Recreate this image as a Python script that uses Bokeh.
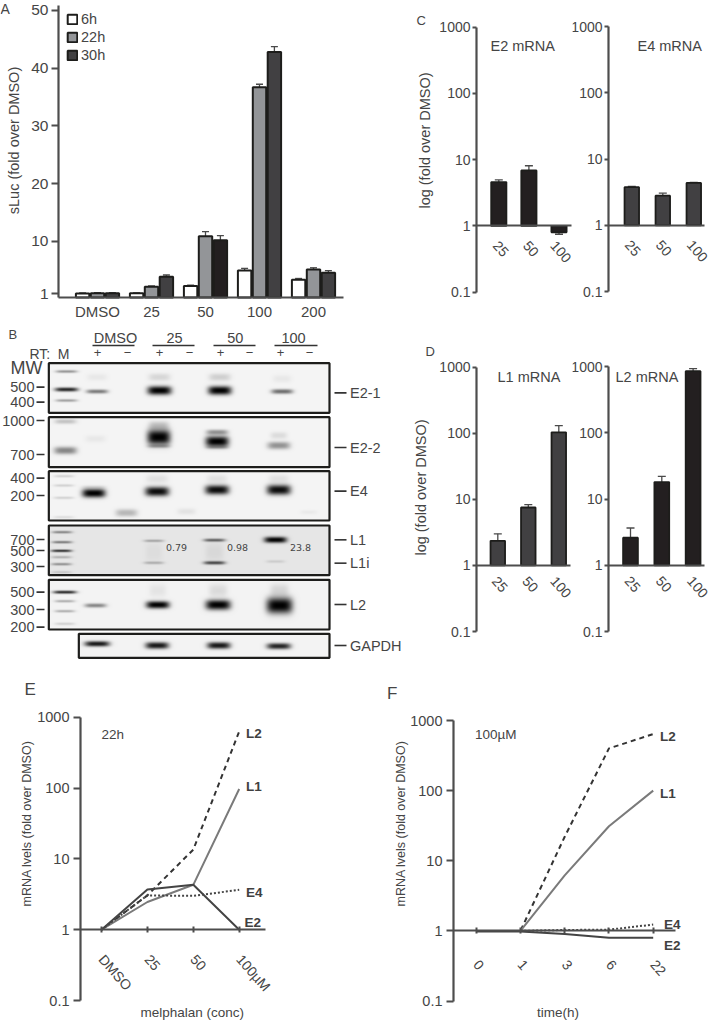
from bokeh.plotting import figure
from bokeh.layouts import column, row
from bokeh.embed import file_html
from bokeh.resources import INLINE
from bokeh.models import (Range1d, ColumnDataSource, Whisker, TeeHead, Label, FixedTicker,
                          Legend, LegendItem, LinearColorMapper)
from bokeh.palettes import gray
import numpy as np
import math

FONT = "Liberation Sans"
INK = "#454545"
AXIS = "#4d4d4d"

# ---------- panel A ----------
A_groups = ["DMSO", "25", "50", "100", "200"]
A_6h = [1.0, 1.05, 2.3, 5.0, 3.4]
A_22h = [1.05, 2.15, 10.9, 36.7, 5.15]
A_30h = [1.05, 3.9, 10.2, 42.8, 4.6]
A_6h_hi = [1.1, 1.1, 2.45, 5.35, 3.6]
A_6h_lo = [0.95, 1.0, 2.15, 4.6, 3.2]
A_22h_hi = [1.15, 2.3, 11.7, 37.2, 5.45]
A_22h_lo = [0.95, 2.0, 10.0, 36.2, 4.9]
A_30h_hi = [1.15, 4.2, 11.0, 43.7, 4.95]
A_30h_lo = [0.95, 3.6, 9.5, 42.0, 4.3]
A_yticks = [1, 10, 20, 30, 40, 50]

# ---------- panels C, D ----------
conc3 = ["25", "50", "100"]
C_E2 = [4.6, 6.9, 0.8]
C_E2_hi = [4.95, 8.1, 0.85]
C_E2_lo = [4.2, 5.9, 0.75]
C_E4 = [3.75, 2.8, 4.35]
C_E4_hi = [3.85, 3.05, 4.45]
C_E4_lo = [3.65, 2.55, 4.25]
D_L1 = [2.35, 7.5, 103]
D_L1_hi = [3.0, 8.3, 130]
D_L1_lo = [1.9, 7.0, 90]
D_L2 = [2.6, 18, 850]
D_L2_hi = [3.65, 22, 930]
D_L2_lo = [1.6, 14.8, 760]
log_ticks = [0.1, 1, 10, 100, 1000]
log_names = {0.1: "0.1", 1: "1", 10: "10", 100: "100", 1000: "1000"}

# ---------- panel E ----------
E_cats = ["DMSO", "25", "50", "100\u00b5M"]
E_L2 = [1, 3.05, 13.5, 630]
E_L1 = [1, 2.46, 4.3, 97]
E_E4 = [1, 3.05, 3.0, 3.65]
E_E2 = [1, 3.7, 4.3, 1.0]

# ---------- panel F ----------
F_cats = ["0", "1", "3", "6", "22"]
F_L2 = [1, 1, 22, 400, 640]
F_L1 = [1, 1, 6.2, 31, 100]
F_E4 = [1, 1, 1.03, 1.04, 1.23]
F_E2 = [0.98, 0.98, 0.9, 0.8, 0.8]

# ---------- panel B: gels, (lane, row, width, height, darkness) in 1/3 px ----------
gel_boxes = {
    "E2-1": (145, 143, 987, 292, 0.955),
    "E2-2": (145, 305, 987, 455, 0.955),
    "E4": (145, 467, 987, 615, 0.955),
    "L1": (145, 630, 987, 779, 0.90),
    "L2": (145, 793, 987, 942, 0.95),
    "GAPDH": (235, 955, 987, 1027, 0.95),
}
bands_E21 = [(198,168,65,8,.4),(198,222,70,12,.85),(198,255,65,8,.35),(290,228,65,12,.5),(290,185,60,20,.05),
             (477,225,72,26,1),(477,185,65,22,.12),(658,225,70,26,1),(658,185,65,22,.15),(845,228,65,14,.55),(845,190,55,22,.05)]
bands_E22 = [(195,318,65,14,.2),(195,405,68,22,.45),(285,370,60,20,.05),(475,365,70,46,1),(475,330,60,25,.2),(475,392,65,10,.3),
             (650,378,70,32,1),(650,350,65,15,.4),(650,395,65,10,.3),(835,390,68,22,.4),(835,360,50,20,.1)]
bands_E4 = [(190,482,60,5,.15),(190,510,60,6,.15),(190,547,60,6,.15),(190,605,60,4,.1),(280,533,70,26,1),(280,515,70,10,.1),
            (378,592,65,22,.25),(470,528,72,28,.95),(470,490,65,25,.08),(558,588,55,18,.07),(650,523,72,28,.95),(650,490,60,25,.08),
            (835,523,72,30,.95),(835,490,60,25,.08),(925,590,50,12,.04)]
bands_L1 = [(185,650,60,4,.45),(185,680,60,5,.5),(183,706,62,6,.85),(183,725,60,4,.25),(183,746,60,5,.4),(183,770,60,3,.15),
            (460,676,60,7,.3),(460,742,60,8,.25),(460,710,50,60,.04),(642,674,65,9,.6),(642,742,65,10,.7),(642,710,55,60,.06),
            (825,673,68,18,1),(825,738,55,8,.12)]
bands_L2 = [(193,830,70,9,.85),(193,857,60,5,.3),(193,887,60,5,.3),(193,925,60,6,.15),(285,870,65,12,.45),
            (472,868,70,22,1),(472,825,50,40,.06),(653,868,75,30,1),(653,825,55,40,.1),(837,870,78,48,1.0),(837,825,55,40,.12)]
bands_GAPDH = [(290,985,75,16,.9),(470,990,70,20,.9),(655,990,70,20,.9),(835,992,72,18,.85)]
gel_bands = {"E2-1": bands_E21, "E2-2": bands_E22, "E4": bands_E4, "L1": bands_L1, "L2": bands_L2, "GAPDH": bands_GAPDH}

mw_labels = [("500", 215), ("400", 260), ("1000", 315), ("700", 417), ("400", 488), ("200", 540),
             ("700", 672), ("500", 705), ("300", 753), ("500", 830), ("300", 882), ("200", 935)]
gel_names = [("E2-1", 232), ("E2-2", 396), ("E4", 527), ("L1", 673), ("L1i", 743), ("L2", 867), ("GAPDH", 990)]
lane_heads = [("DMSO", 115, 92, 134), ("25", 174, 152, 194), ("50", 234.7, 213, 255), ("100", 293, 274, 317)]
rt_marks = [("+", 97), ("\u2212", 127), ("+", 159), ("\u2212", 189), ("+", 220), ("\u2212", 249), ("+", 280), ("\u2212", 309)]
l1_ratios = [("0.79", 176), ("0.98", 237), ("23.8", 300)]


def log_range(fy, fh, T, B):
    """Range whose 0.1..1000 span falls between page rows T and B, for a frame filling the figure."""
    dec = (B - T) / 4
    return Range1d(0.1 * 10 ** (-(fy + fh - B) / dec), 1000 * 10 ** ((T - fy) / dec))


def panel(fx, fy, fw, fh, c0, dx, yr, **kw):
    xr = Range1d((fx - c0) / dx, (fx + fw - c0) / dx)
    p = figure(width=fw, height=fh, x_range=xr, y_range=yr,
               min_border_left=0, min_border_right=0, min_border_top=0, min_border_bottom=0,
               frame_align=False,
               toolbar_location=None, output_backend="svg", outline_line_color=None, **kw)
    p.grid.visible = False
    p.tags = [fx, fy + fh]
    return p


def note(p, px, py, text, size=14.5, color=INK, bold=False, align="left", angle=0, font=FONT):
    org = p.tags
    p.add_layout(Label(x=px - org[0], y=org[1] - py, x_units="screen", y_units="screen", text=text,
                       text_font=font, text_font_size=f"{size}px", text_color=color,
                       text_font_style="bold" if bold else "normal", text_align=align,
                       text_baseline="middle", angle=angle))


def vlabel(p, px, py, text, size=14.5):
    note(p, px, py, text, size=size, align="center", angle=math.pi / 2)


def style_y(p, ticks, at, bounds, overrides=None, tick=5, size=14.5, standoff=4):
    ax = p.yaxis[0]
    ax.ticker = FixedTicker(ticks=ticks)
    ax.fixed_location = at
    ax.bounds = bounds
    ax.minor_tick_line_color = None
    ax.major_tick_in = 0
    ax.major_tick_out = tick
    ax.major_tick_line_color = AXIS
    ax.major_tick_line_width = 2
    ax.axis_line_color = AXIS
    ax.axis_line_width = 2.2
    ax.major_label_text_font = FONT
    ax.major_label_text_font_size = f"{size}px"
    ax.major_label_text_color = INK
    ax.major_label_standoff = standoff
    if overrides:
        ax.major_label_overrides = overrides


def style_x(p, names, at, bounds, tick_in=0, tick_out=0, size=14.5, angle=-0.85, standoff=10, shift=0.0):
    ax = p.xaxis[0]
    ticks = [round(i + shift, 4) for i in range(len(names))]
    ax.ticker = FixedTicker(ticks=ticks)
    ax.major_label_overrides = dict(zip(ticks, names))
    ax.fixed_location = at
    ax.bounds = bounds
    ax.minor_tick_line_color = None
    ax.major_tick_in = tick_in
    ax.major_tick_out = tick_out
    ax.major_tick_line_color = AXIS
    ax.major_tick_line_width = 2
    ax.axis_line_color = AXIS
    ax.axis_line_width = 2.2
    ax.major_label_text_font = FONT
    ax.major_label_text_font_size = f"{size}px"
    ax.major_label_text_color = INK
    ax.major_label_standoff = standoff
    if angle:
        ax.major_label_orientation = angle


def err(p, xs, hi, lo, head=7, color="#4a4a4a"):
    src = ColumnDataSource(dict(x=xs, hi=hi, lo=lo))
    p.add_layout(Whisker(base="x", upper="hi", lower="lo", source=src, line_color=color, line_width=1.3,
                         upper_head=TeeHead(size=head, line_color=color, line_width=1.3),
                         lower_head=TeeHead(size=head, line_color=color, line_width=1.3)))


# ========== A ==========
ax0, adx = 97.0, 54.0
aL, aR, aT, aB = 58, 343, 5, 297
A_H = 326
ay = lambda py: 1 + (293 - py) / 5.78
pA = panel(0, 0, 405, A_H, ax0, adx, Range1d(ay(A_H), ay(0)))
bw = 13.4 / adx
off = 14.9 / adx
idx = np.arange(5)
r6 = pA.vbar(x=idx - off, top=A_6h, bottom=ay(aB), width=bw, fill_color="white", line_color="#1d1d1b", line_width=2)
r22 = pA.vbar(x=idx, top=A_22h, bottom=ay(aB), width=bw, fill_color="#939598", line_color="#1d1d1b", line_width=2)
fills30 = ["#414042", "#414042", "#231f20", "#414042", "#414042"]
r30 = pA.vbar(x="x", top="top", bottom=ay(aB), width=bw,
              source=ColumnDataSource(dict(x=idx + off, top=A_30h, fc=fills30)),
              fill_color="fc", line_color="#1d1d1b", line_width=2)
err(pA, list(idx - off), A_6h_hi, A_6h_lo)
err(pA, list(idx.astype(float)), A_22h_hi, A_22h_lo)
err(pA, list(idx + off), A_30h_hi, A_30h_lo)
style_y(pA, A_yticks, (aL - ax0) / adx, (ay(aB), ay(aT)), tick=7, size=15.5, standoff=3)
style_x(pA, A_groups, ay(aB), ((aL - ax0) / adx, (aR - ax0) / adx), size=15, angle=None, standoff=5)
pA.add_layout(Legend(items=[LegendItem(label="6h", renderers=[r6]), LegendItem(label="22h", renderers=[r22]),
                            LegendItem(label="30h", renderers=[r30])],
                     location=(66, A_H - 63), background_fill_alpha=0, border_line_color=None, padding=0, margin=0,
                     spacing=2, glyph_width=12, glyph_height=12, label_standoff=3, label_height=12,
                     label_text_font=FONT, label_text_font_size="14.5px", label_text_color=INK))
vlabel(pA, 13, 140, "sLuc (fold over DMSO)", size=14.5)
note(pA, 0, 8, "A", size=14)

# ========== B ==========
pB = panel(0, A_H, 405, 665 - A_H, 0, 1, Range1d(0, 665 - A_H))
pB.xaxis.visible = False
pB.yaxis.visible = False
gel = np.ones((350, 400))
yy, xx = np.mgrid[0:350, 0:400]
pagey = 664.5 - yy
pagex = xx + 0.5
for name, (x0, y0, x1, y1, bg) in gel_boxes.items():
    x0, y0, x1, y1 = x0 / 3, 315 + y0 / 3, x1 / 3, 315 + y1 / 3
    mask = (pagex >= x0) & (pagex <= x1) & (pagey >= y0) & (pagey <= y1)
    val = np.full(gel.shape, bg)
    for cx, cy, w, h, d in gel_bands[name]:
        cx, cy, w, h = cx / 3, 315 + cy / 3, w / 6, max(h / 6, 1.2)
        val *= 1 - d * np.exp(-np.abs((pagex - cx) / w) ** 4) * np.exp(-np.abs((pagey - cy) / h) ** 2.4)
    gel[mask] = val[mask]
pB.image(image=[gel], x=0, y=0, dw=400, dh=350,
         color_mapper=LinearColorMapper(palette=gray(256), low=0, high=1))
for name, (x0, y0, x1, y1, bg) in gel_boxes.items():
    pB.quad(left=x0 / 3, right=x1 / 3, bottom=350 - y1 / 3, top=350 - y0 / 3, fill_alpha=0,
            line_color="#1d1d1b", line_width=2.2)
note(pB, 8, 334, "B", size=13)
for t, c, a, b in lane_heads:
    note(pB, c, 337, t, size=14.5, align="center")
    pB.line([a, b], [665 - 345, 665 - 345], line_color="#333333", line_width=1.6)
note(pB, 29, 353, "RT:", size=14)
note(pB, 63, 353, "M", size=14, align="center")
for t, c in rt_marks:
    note(pB, c, 352, t, size=13, align="center")
note(pB, 10, 367, "MW", size=18)
for t, y in mw_labels:
    py = 315 + y / 3
    note(pB, 34, py, t, size=14.5, align="right")
    pB.line([36, 44], [665 - py, 665 - py], line_color="#333333", line_width=1.6)
for t, y in gel_names:
    py = 315 + y / 3
    note(pB, 349.5, py, t, size=14.5)
    pB.line([334, 346], [665 - py, 665 - py], line_color="#333333", line_width=1.6)
for t, c in l1_ratios:
    note(pB, c, 547, t, size=9.5, align="center", font="DejaVu Sans")


# ========== C, D ==========
def barpanel(fx, fy, fw, fh, L, R, T, B, c0, dx, w, vals, hi, lo, color, title, tx, ty, standoff, nudge):
    p = panel(fx, fy, fw, fh, c0, dx, log_range(fy, fh, T, B), y_axis_type="log")
    p.vbar(x=[0, 1, 2], bottom=1, top=vals, width=(w - 1.5) / dx, fill_color=color, line_color="#1d1d1b", line_width=1.8)
    err(p, [0, 1, 2], hi, lo, head=8)
    style_y(p, log_ticks, (L - c0) / dx, (0.1, 1000), log_names, tick=4, size=14, standoff=2)
    style_x(p, conc3, 1, ((L - c0) / dx, (R - c0) / dx), size=14, standoff=standoff, shift=nudge / dx)
    note(p, tx, ty, title, size=14.5)
    return p


pC1 = barpanel(405, 0, 167, 335, 476, 570.7, 26.7, 291.7, 498.3, 30.1, 16.7, C_E2, C_E2_hi, C_E2_lo, "#231f20",
               "E2 mRNA", 490, 45, 17, -3)
vlabel(pC1, 424, 140, "log (fold over DMSO)")
note(pC1, 416, 20, "C", size=13)
pC2 = barpanel(572, 0, 139, 335, 608, 704, 26, 291, 631.3, 31, 16, C_E4, C_E4_hi, C_E4_lo, "#414042",
               "E4 mRNA", 637, 45, 17, -4)
pD1 = barpanel(405, 335, 167, 320, 476, 570, 366.5, 631, 497.3, 30.5, 16, D_L1, D_L1_hi, D_L1_lo, "#414042",
               "L1 mRNA", 497, 376, 13, -3)
vlabel(pD1, 420, 487, "log (fold over DMSO)")
note(pD1, 425, 351, "D", size=13)
pD2 = barpanel(572, 335, 139, 320, 608, 704, 366, 631, 630, 31.3, 16.3, D_L2, D_L2_hi, D_L2_lo, "#231f20",
               "L2 mRNA", 615, 376, 13, -3)


# ========== E, F ==========
def linepanel(fx, fy, fw, fh, L, R, T, B, c0, dx, cats, series, xlabel, xl_x, tag, tag_x, letter, lx, ly, name_pos, standoff, vx):
    p = panel(fx, fy, fw, fh, c0, dx, log_range(fy, fh, T, B), y_axis_type="log")
    for vals, col, dash in series:
        p.line(list(range(len(vals))), vals, line_color=col, line_width=2, line_dash=dash)
    style_y(p, log_ticks, (L - c0) / dx, (0.1, 1000), log_names, tick=7, standoff=4)
    style_x(p, cats, 1, ((L - c0) / dx, (R - c0) / dx), tick_in=3, tick_out=3, size=14, standoff=standoff)
    vlabel(p, vx, 823, "mRNA lvels (fold over DMSO)", size=12.5)
    note(p, lx, ly, letter, size=17)
    note(p, tag_x, 734, tag, size=13.5)
    note(p, xl_x, 1011.5, xlabel, size=13.5)
    for t, x, y in name_pos:
        note(p, x, y, t, size=13.5, bold=True, color="#404040")
    return p


pE = linepanel(0, 665, 340, 358, 80, 265, 716.7, 1000, 101, 45.9, E_cats,
               [(E_L2, "#333333", "5 4"), (E_L1, "#7a7a7a", "solid"), (E_E4, "#444444", "2 2"), (E_E2, "#444444", "solid")],
               "melphalan (conc)", 140, "22h", 101, "E", 24, 689,
               [("L2", 245.5, 732.5), ("L1", 245.5, 785.5), ("E4", 245.5, 891.5), ("E2", 244, 921.5)], 24, 26)
pF = linepanel(340, 665, 371, 358, 453, 675, 720, 1000.5, 475.7, 44.25, F_cats,
               [(F_L2, "#333333", "5 4"), (F_L1, "#7a7a7a", "solid"), (F_E4, "#444444", "2 2"), (F_E2, "#444444", "solid")],
               "time(h)", 536.5, "100\u00b5M", 474.5, "F", 386.5, 693,
               [("L2", 659.5, 735.5), ("L1", 659.5, 792.5), ("E4", 663.5, 924), ("E2", 663.5, 945)], 28, 400)

root = column(
    row(column(pA, pB, spacing=0), column(row(pC1, pC2, spacing=0), row(pD1, pD2, spacing=0), spacing=0), spacing=0),
    row(pE, pF, spacing=0),
    spacing=0)
open("out.html", "w").write(file_html(root, INLINE))
